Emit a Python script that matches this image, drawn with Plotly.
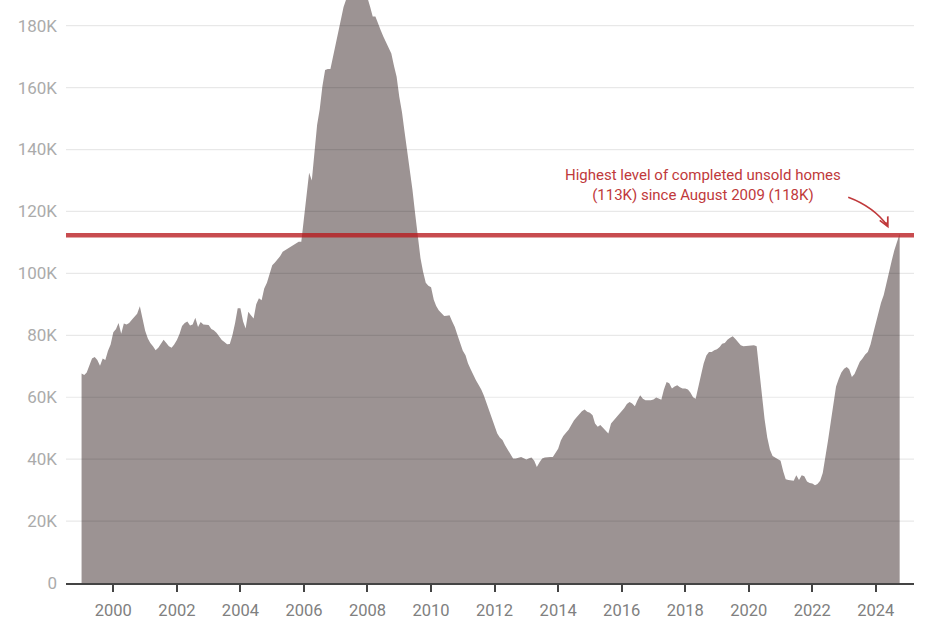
import pandas as pd
import plotly.graph_objects as go

# Completed, unsold new homes (thousands), monthly Jan 1999 - Oct 2024
unsold_k = [
    67.7, 67.2, 68.0, 70.5, 72.5, 73.0, 72.0, 70.2, 72.5, 72.0, 75.0, 77.0,   # 1999
    81.0, 82.0, 84.0, 80.5, 83.8, 83.5, 84.0, 85.0, 86.0, 87.0, 89.4, 85.0,   # 2000
    81.5, 79.0, 77.5, 76.5, 75.2, 76.0, 77.5, 78.6, 77.5, 76.5, 76.0, 77.0,   # 2001
    78.5, 80.5, 83.0, 84.0, 84.5, 83.2, 83.5, 85.7, 82.7, 84.3, 83.5, 83.5,   # 2002
    83.3, 82.0, 81.6, 80.8, 79.5, 78.5, 77.8, 77.1, 77.2, 80.0, 84.0, 88.7,   # 2003
    88.7, 84.5, 82.2, 87.6, 86.5, 85.4, 90.0, 92.0, 91.3, 95.1, 97.0, 100.0,  # 2004
    102.6, 103.5, 104.3, 105.5, 107.0, 107.5, 108.0, 108.5, 109.2, 109.7, 110.2, 110.2,  # 2005
    118.3, 126.0, 132.5, 130.0, 138.0, 148.0, 153.0, 160.5, 165.7, 166.0, 166.0, 170.0,  # 2006
    175.0, 179.0, 183.0, 186.0, 188.5, 190.0, 191.0, 191.5, 191.0, 190.5, 190.0, 189.5,  # 2007
    189.0, 186.0, 183.0, 183.0, 180.5, 178.5, 176.5, 174.5, 172.5, 171.0, 167.0, 163.5,  # 2008
    157.0, 152.0, 146.0, 140.0, 134.4, 127.0, 119.5, 112.0, 105.0, 100.5, 97.0, 96.0,    # 2009
    95.5, 91.5, 89.5, 88.0, 87.0, 86.2, 86.3, 86.5, 84.5, 82.7, 80.0, 77.3,   # 2010
    75.0, 73.6, 71.0, 69.0, 67.0, 65.5, 64.0, 62.5, 60.5, 58.0, 55.5, 53.5,   # 2011
    51.0, 48.3, 47.0, 46.2, 44.5, 42.9, 41.5, 40.2, 40.2, 40.4, 40.7, 40.3,   # 2012
    39.9, 40.3, 40.5, 39.5, 37.5, 39.0, 40.2, 40.5, 40.7, 40.7, 40.7, 42.0,   # 2013
    43.4, 46.0, 47.5, 48.5, 49.5, 51.0, 52.5, 53.5, 54.5, 55.5, 56.0, 55.3,   # 2014
    55.0, 54.2, 51.5, 50.5, 51.0, 50.0, 49.0, 48.3, 51.5, 52.5, 53.3, 54.2,   # 2015
    55.5, 56.5, 57.8, 58.5, 58.0, 57.1, 59.0, 60.6, 59.5, 59.0, 59.0, 59.0,   # 2016
    59.3, 59.9, 59.6, 59.2, 62.5, 64.9, 64.5, 62.8, 63.5, 63.9, 63.2, 62.8,   # 2017
    62.8, 62.5, 61.5, 60.0, 59.5, 63.0, 67.1, 70.9, 73.5, 74.6, 74.6, 75.2,   # 2018
    75.5, 76.2, 77.3, 77.5, 78.6, 79.2, 79.7, 78.8, 77.8, 76.8, 76.5, 76.6,   # 2019
    76.5, 76.6, 76.8, 76.5, 68.5, 62.0, 53.0, 47.0, 43.0, 41.0, 40.5, 40.2,   # 2020
    39.5, 36.0, 33.5, 33.3, 33.2, 33.0, 34.8, 33.3, 34.8, 34.5, 32.8, 32.3,   # 2021
    32.1, 31.6, 32.0, 33.0, 35.5, 40.5, 46.1, 52.0, 58.0, 63.5, 66.0, 68.0,   # 2022
    69.2, 69.8, 69.0, 66.5, 67.5, 69.8, 71.5, 72.5, 73.8, 74.6, 77.0, 80.5,   # 2023
    84.0, 87.5, 90.5, 93.0, 97.0, 100.0, 104.0, 107.5, 110.0, 112.8,          # 2024
]
start_month = "1999-01-01"
months = pd.date_range(start_month, periods=len(unsold_k), freq="MS")

highlight_level = 112.3
y_ticks = [0, 20, 40, 60, 80, 100, 120, 140, 160, 180]
y_labels = ["0", "20K", "40K", "60K", "80K", "100K", "120K", "140K", "160K", "180K"]
note_text = "Highest level of completed unsold homes<br>(113K) since August 2009 (118K)"

FONT = "Roboto, 'Open Sans', sans-serif"
RED = "#c0393b"

fig = go.Figure()
fig.add_trace(go.Scatter(
    x=months, y=unsold_k, mode="lines", fill="tozeroy",
    line=dict(width=0, color="#9c9393"), fillcolor="#9c9393",
    hoverinfo="skip", showlegend=False,
))

# gridlines drawn above the area (semi-transparent)
for v in y_ticks[1:]:
    fig.add_shape(type="line", xref="paper", x0=0, x1=1, yref="y", y0=v, y1=v,
                  line=dict(color="rgba(0,0,0,0.09)", width=1.2), layer="above")

# highlight level line
fig.add_shape(type="line", xref="paper", x0=0, x1=1, yref="y",
              y0=highlight_level, y1=highlight_level,
              line=dict(color="rgba(185,25,30,0.78)", width=4.5), layer="above")

fig.add_annotation(
    x=pd.Timestamp("2018-07-23"), y=128.6, xref="x", yref="y",
    text=note_text, showarrow=False, align="center",
    xanchor="center", yanchor="middle",
    font=dict(family=FONT, size=15, color=RED),
)
# curved arrow body
fig.add_shape(type="path", xref="x", yref="y",
              path="M 2023-02-18,124.6 Q 2023-12-10,121.5 2024-05-16,115.3",
              line=dict(color=RED, width=1.6), layer="above")
fig.add_annotation(
    x=pd.Timestamp("2024-05-28"), y=114.6, xref="x", yref="y",
    ax=pd.Timestamp("2024-04-15"), ay=117.0, axref="x", ayref="y",
    text="", showarrow=True, arrowhead=5, arrowsize=1.1, arrowwidth=1.6,
    arrowcolor=RED,
)

fig.update_layout(
    width=930, height=620,
    margin=dict(l=66, r=16, t=0, b=37),
    paper_bgcolor="white", plot_bgcolor="white",
    font=dict(family=FONT),
    showlegend=False,
)
fig.update_xaxes(
    type="date", range=["1998-07-06", "2025-03-15"],
    tick0="2000-01-01", dtick="M24", tickformat="%Y",
    showgrid=False, zeroline=False,
    showline=True, linecolor="#444444", linewidth=1.5,
    ticks="outside", ticklen=7, tickwidth=1.5, tickcolor="#444444",
    ticklabelstandoff=4,
    tickfont=dict(family=FONT, size=16.5, color="#808080"),
)
fig.update_yaxes(
    range=[0, 188.3], tickvals=y_ticks, ticktext=y_labels,
    showgrid=False, zeroline=False, showline=False,
    ticks="", ticklabelstandoff=8,
    tickfont=dict(family=FONT, size=17, color="#ababab"),
)

fig.write_html("out.html")
